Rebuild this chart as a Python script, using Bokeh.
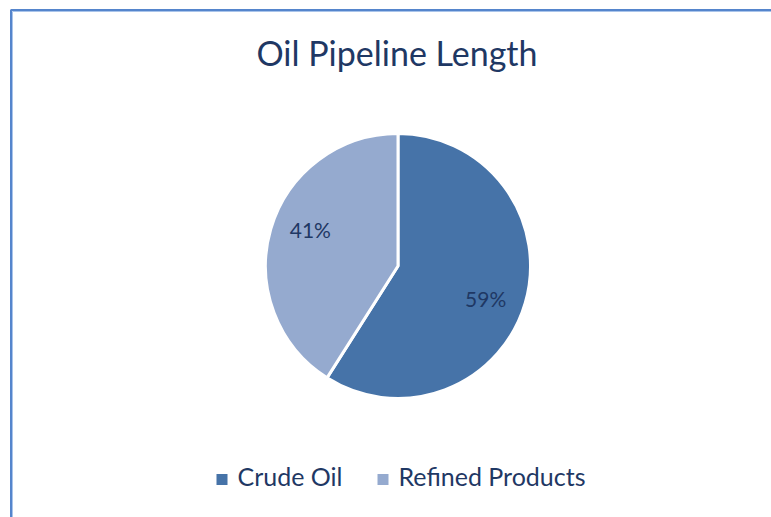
import math
from bokeh.plotting import figure
from bokeh.models import Range1d, ColumnDataSource
from bokeh.core.properties import value
from bokeh.embed import file_html
from bokeh.resources import INLINE

title = "Oil Pipeline Length"
categories = ["Crude Oil", "Refined Products"]
shares = [59, 41]
colors = ["#4673A8", "#95AACF"]
label_color = "#1F3864"
FONT = "Lato"

W, H = 771, 517
cx, cy, R = 397.5, H - 265.5, 132.5

p = figure(width=W, height=H, output_backend="svg", toolbar_location=None,
           x_range=Range1d(0, W), y_range=Range1d(0, H), min_border=0,
           match_aspect=False)
p.axis.visible = False
p.grid.visible = False
p.outline_line_color = None
p.background_fill_color = "white"
p.border_fill_color = "white"

# chart border (cropped frame)
p.line(x=[10.5, 10.5, W + 5], y=[-5, H - 9.5, H - 9.5], line_color="#5585CC", line_width=2)
p.line(x=[12, 12, W + 5], y=[-5, H - 11, H - 11], line_color="#A9C4EA", line_width=1)

# wedges: start at top, clockwise
total = sum(shares)
starts, ends, mids = [], [], []
a = 90.0
for s in shares:
    sweep = 360.0 * s / total
    end = a
    start = a - sweep
    starts.append(math.radians(start))
    ends.append(math.radians(end))
    mids.append(math.radians((start + end) / 2 - 5))
    a = start

src = ColumnDataSource(dict(start=starts, end=ends, color=colors))
p.wedge(x=cx, y=cy, radius=R, start_angle="start", end_angle="end",
        direction="anticlock", fill_color="color", line_color="white",
        line_width=3, source=src)

lr = 0.71 * R
lx = [cx + lr * math.cos(m) for m in mids]
ly = [cy + lr * math.sin(m) - 7.5 + 9.5 for m in mids]
p.text(x=lx, y=ly, text=[f"{s}%" for s in shares], text_align="center",
       text_baseline="alphabetic", text_font=value(FONT), text_font_size="21px",
       text_color=label_color)

# title
p.text(x=[396.5], y=[H - 66 + 14], text=[title], text_align="center",
       text_baseline="alphabetic", text_font=value(FONT), text_font_size="34px",
       text_color=label_color)

# legend
leg_x = [221.5, 382.5]
leg_y = H - 479
p.scatter(x=leg_x, y=[leg_y] * 2, marker="square", size=11, fill_color=colors,
          line_color=None)
p.text(x=[x + 15.5 for x in leg_x], y=[H - 486 + 11] * 2, text=categories, text_align="left",
       text_baseline="alphabetic", text_font=value(FONT), text_font_size="25px",
       text_color=label_color)

open("out.html", "w").write(file_html(p, INLINE))
